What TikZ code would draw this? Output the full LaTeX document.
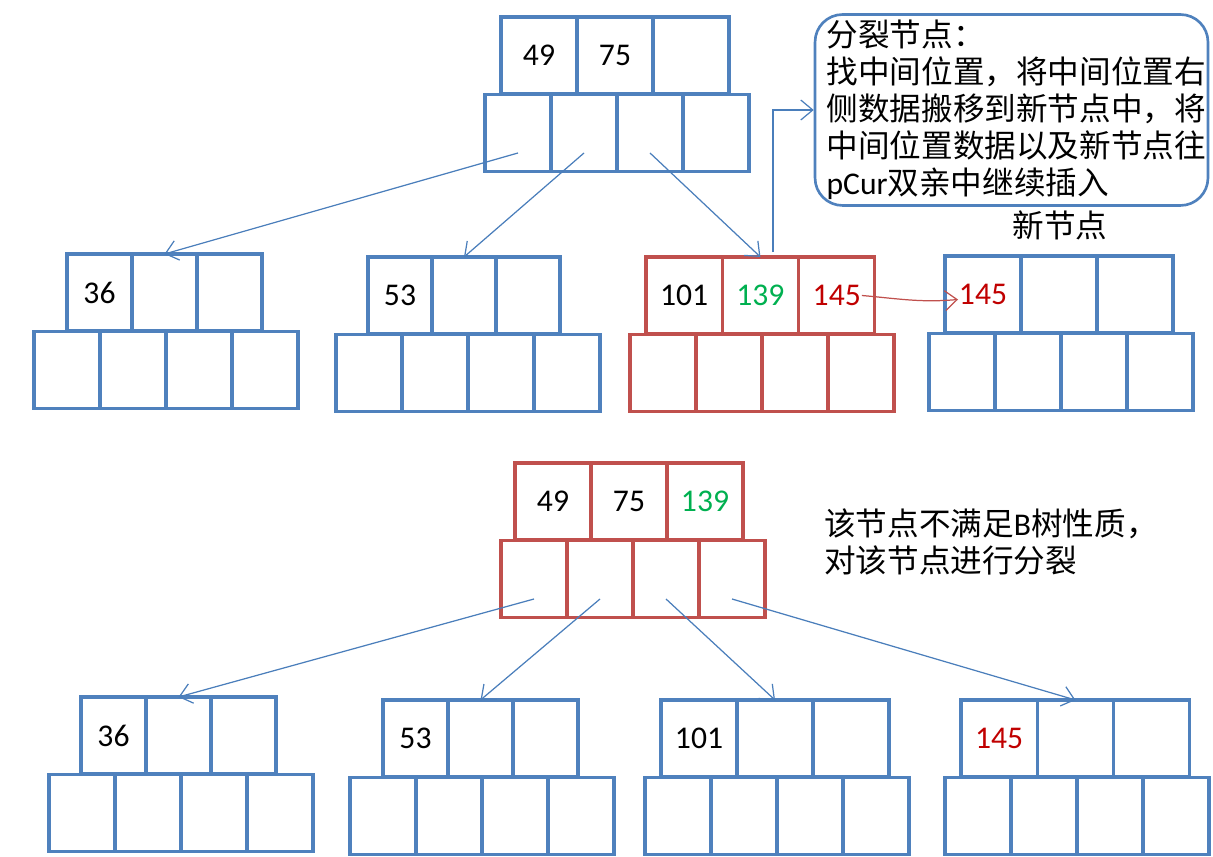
\documentclass[tikz,border=0pt]{standalone}
\usepackage{fontspec}
\setmainfont{Carlito}
\newfontfamily\cjk{Noto Sans CJK SC}
\usetikzlibrary{arrows.meta,calc}

\definecolor{boxblue}{HTML}{4F81BD}
\definecolor{boxred}{HTML}{C0504D}
\definecolor{linkblue}{HTML}{4A7EBB}
\definecolor{keygreen}{HTML}{00B050}
\definecolor{keyred}{HTML}{C00000}

\tikzset{
  keycell/.style={rectangle, line width=1.8pt, minimum height=1.54cm, inner sep=0pt, outer sep=0pt},
  childcell/.style={rectangle, line width=1.8pt, minimum width=1.32cm, minimum height=1.55cm, inner sep=0pt, outer sep=0pt},
  link/.style={linkblue, line width=0.7pt, -{Straight Barb[length=2.4mm,width=4mm]}},
  redlink/.style={boxred, line width=0.7pt, -{Straight Barb[length=2.4mm,width=4mm]}},
  cjktext/.style={font=\fontsize{18}{21}\selectfont\cjk},
  note/.style={cjktext, draw=boxblue, line width=1.5pt, rounded corners=0.55cm, minimum width=7.86cm, minimum height=3.8cm,
    text width=7.4cm, inner xsep=0.23cm, align=left},
}

% one B-tree node: #1 name, #2/#3 left/top of the keys, #4 key width, #5 left of the children, #6 colour, #7 keys
\newcommand{\btnode}[7]{
  \foreach \lab/\col [count=\i] in {#7}{
    \node[keycell, draw=#6, text=\col, minimum width=#4*0.02cm] (#1k\i) at ({#2+(\i-0.5)*#4},{#3+38.5}) {\lab};
  }
  \foreach \i in {1,...,4}{
    \node[childcell, draw=#6] (#1c\i) at ({#5+(\i-0.5)*66},{#3+77+39}) {};
  }
}

\begin{document}
\begin{tikzpicture}[x=0.02cm, y=-0.02cm, every node/.style={font=\fontsize{18}{21}\selectfont}]
  \useasboundingbox (0,0) rectangle (1213,857);

  % before the split
  \btnode{t}{501}{17}{76}{485}{boxblue}{49/black,75/black,/black}
  \btnode{a}{67}{254}{65}{34}{boxblue}{36/black,/black,/black}
  \btnode{b}{368}{257}{64}{336}{boxblue}{53/black,/black,/black}
  \btnode{c}{646}{257}{76.3}{630}{boxred}{101/black,139/keygreen,145/keyred}
  \btnode{d}{945}{256}{76}{929}{boxblue}{145/keyred,/black,/black}

  \foreach \i/\j in {1/a,2/b,3/c}{
    \draw[link] ([yshift=-0.4cm]tc\i.center) -- (\j k2.north);
  }

  \node[note] (note) at (1011.5,110) {分裂节点：\\
    找中间位置，将中间位置右\\
    侧数据搬移到新节点中，将\\
    中间位置数据以及新节点往\\
    {\rmfamily pCur}双亲中继续插入};
  \draw[link] ([shift={(0.25cm,0.1cm)}]ck2.north) |- (note.west);

  \node[cjktext] (newlbl) at (1060,225) {新节点};
  \draw[redlink] ([xshift=-0.26cm]ck3.east) to[out=-5,in=185] ([xshift=0.26cm,yshift=-0.1cm]dk1.west);

  % after the split
  \btnode{p}{515}{463}{76}{501}{boxred}{49/black,75/black,139/keygreen}
  \btnode{e}{81}{697}{65}{49}{boxblue}{36/black,/black,/black}
  \btnode{f}{383}{700}{65}{350}{boxblue}{53/black,/black,/black}
  \btnode{g}{661}{700}{76}{645}{boxblue}{101/black,/black,/black}
  \btnode{h}{961}{700}{76.3}{945}{boxblue}{145/keyred,/black,/black}

  \foreach \i/\j in {1/e,2/f,3/g,4/h}{
    \draw[link] ([yshift=-0.4cm]pc\i.center) -- (\j k2.north);
  }

  \node[cjktext, anchor=west, align=left] (why) at (818,542) {该节点不满足{\rmfamily B}树性质，\\ 对该节点进行分裂};
\end{tikzpicture}
\end{document}
